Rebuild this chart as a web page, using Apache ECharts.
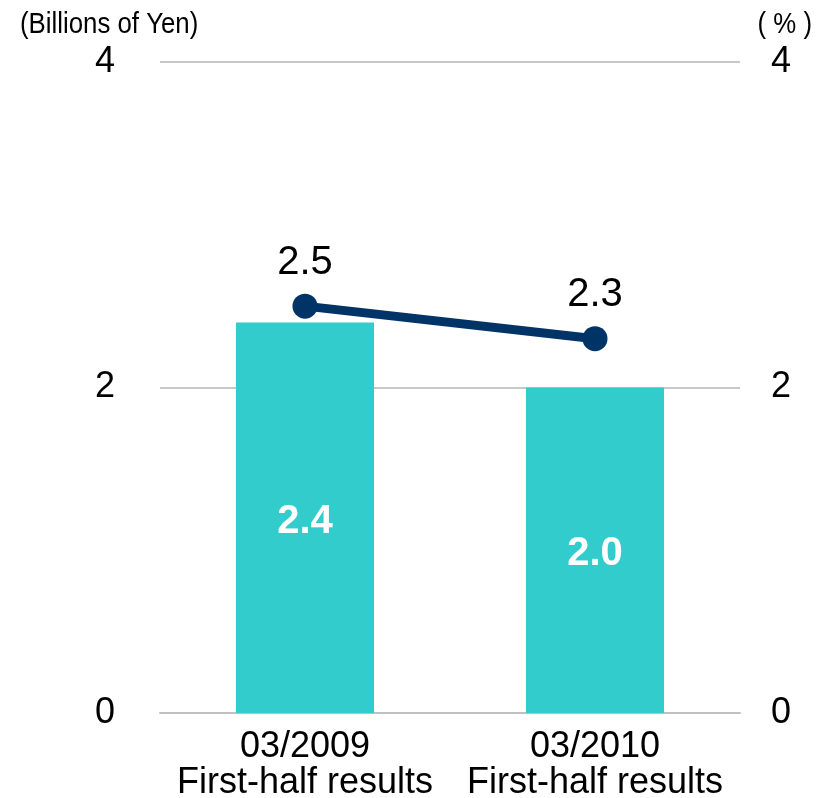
<!DOCTYPE html>
<html>
<head>
<meta charset="utf-8">
<script src="https://cdn.jsdelivr.net/npm/echarts@6/dist/echarts.min.js"></script>
<style>
html,body{margin:0;padding:0;background:#fff;}
#c{width:824px;height:798px;}
</style>
</head>
<body>
<div id="c"></div>
<script>
const categories = ['03/2009\nFirst-half results', '03/2010\nFirst-half results'];
const barValues = [2.4, 2.0];
const lineValues = [2.5, 2.3];
const leftTicks = [0, 2, 4];
const rightTicks = [0, 2, 4];

const chart = echarts.init(document.getElementById('c'));
const font = 'Liberation Sans, Arial, sans-serif';
chart.setOption({
  animation: false,
  grid: {left: 160, right: 84, top: 62, bottom: 85, containLabel: false, outerBoundsMode: 'none'},
  graphic: [
    {type: 'text', x: 20, y: 25, scaleX: 0.86,
     style: {text: '(Billions of Yen)', font: '30px "Liberation Sans", Arial, sans-serif', fill: '#000', align: 'left', verticalAlign: 'middle'}},
    {type: 'text', x: 812, y: 25, scaleX: 0.86,
     style: {text: '( % )', font: '30px "Liberation Sans", Arial, sans-serif', fill: '#000', align: 'right', verticalAlign: 'middle'}}
  ],
  xAxis: {
    type: 'category',
    data: categories,
    axisTick: {show: false},
    axisLine: {show: true, lineStyle: {color: '#c0c0c0', width: 2}},
    axisLabel: {interval: 0, hideOverlap: false, fontSize: 36, fontFamily: font, color: '#000', lineHeight: 36, margin: 16}
  },
  yAxis: [
    {
      type: 'value', min: 0, max: 4, interval: 2,
      axisLine: {show: false}, axisTick: {show: false},
      splitLine: {lineStyle: {color: '#b4b4b4', width: 1.5}},
      axisLabel: {fontSize: 36, fontFamily: font, color: '#000', margin: 45}
    },
    {
      type: 'value', min: 0, max: 4, interval: 2,
      axisLine: {show: false}, axisTick: {show: false},
      splitLine: {show: false},
      axisLabel: {fontSize: 36, fontFamily: font, color: '#000', margin: 31}
    }
  ],
  series: [
    {
      type: 'bar', data: barValues, yAxisIndex: 0, barWidth: 138,
      itemStyle: {color: '#33CCCC'},
      label: {show: true, position: 'inside', offset: [0, 4], formatter: p => p.value.toFixed(1), fontSize: 40, fontWeight: 'bold', fontFamily: font, color: '#fff'}
    },
    {
      type: 'line', data: lineValues, yAxisIndex: 1,
      symbol: 'circle', symbolSize: 25,
      lineStyle: {color: '#003366', width: 9},
      itemStyle: {color: '#003366'},
      label: {show: true, position: 'top', distance: 11, formatter: p => p.value.toFixed(1), fontSize: 40, fontFamily: font, color: '#000'},
      z: 5
    }
  ]
});
</script>
</body>
</html>
